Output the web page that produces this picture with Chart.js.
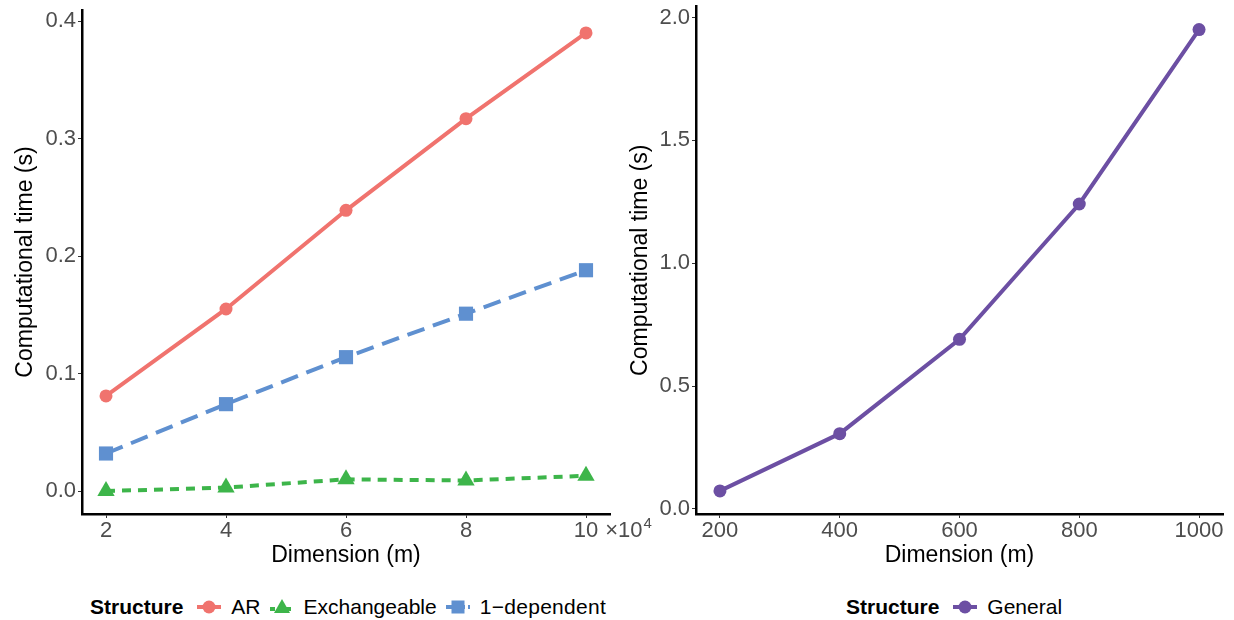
<!DOCTYPE html>
<html>
<head>
<meta charset="utf-8">
<script src="https://cdn.jsdelivr.net/npm/chart.js@4"></script>
<style>
  body { margin: 0; background: #fff; width: 1234px; height: 620px; position: relative; overflow: hidden; font-family: "Liberation Sans", Arial, sans-serif; }
  #leftChart { position: absolute; left: 0; top: 0; z-index: 2; }
  #rightChart { position: absolute; left: 615px; top: 0; z-index: 1; }
  .legend { position: absolute; top: 594px; height: 26px; display: flex; align-items: center; font-size: 21px; color: #000; white-space: nowrap; }
  .legend b { margin-right: 9px; }
  .legend svg { margin: 0 10px 0 5px; }
  .legend span.item { margin-right: 4px; }
</style>
</head>
<body>
<canvas id="leftChart" width="660" height="575"></canvas>
<canvas id="rightChart" width="619" height="575"></canvas>

<div class="legend" id="legendLeft" style="left:90px;">
  <b>Structure</b>
  <svg width="24" height="20"><line x1="0" y1="10" x2="24" y2="10" stroke="#F0736E" stroke-width="4"/><circle cx="12" cy="10" r="6.5" fill="#F0736E"/></svg>
  <span class="item">AR</span>
  <svg width="24" height="20"><line x1="0" y1="12" x2="24" y2="12" stroke="#3DB54A" stroke-width="4" stroke-dasharray="5 3"/><polygon points="12,2 20,16 4,16" fill="#3DB54A"/></svg>
  <span class="item">Exchangeable</span>
  <svg width="24" height="20"><line x1="0" y1="10" x2="24" y2="10" stroke="#5F90D0" stroke-width="4" stroke-dasharray="8 3"/><rect x="5.5" y="3.5" width="13" height="13" fill="#5F90D0"/></svg>
  <span class="item" style="letter-spacing:0.3px">1−dependent</span>
</div>

<div class="legend" id="legendRight" style="left:846px;">
  <b>Structure</b>
  <svg width="24" height="20"><line x1="0" y1="10" x2="24" y2="10" stroke="#6C4FA3" stroke-width="4"/><circle cx="12" cy="10" r="6.5" fill="#6C4FA3"/></svg>
  <span class="item">General</span>
</div>

<script>
// --- data ---
const dimsLeft = [2, 4, 6, 8, 10];            // x 10^4
const arTimes = [0.081, 0.155, 0.239, 0.317, 0.390];
const exchTimes = [0.000, 0.003, 0.010, 0.009, 0.013];
const depTimes = [0.032, 0.074, 0.114, 0.151, 0.188];
const yTicksLeft = [0, 0.1, 0.2, 0.3, 0.4];

const dimsRight = [200, 400, 600, 800, 1000];
const generalTimes = [0.073, 0.306, 0.690, 1.241, 1.951];
const yTicksRight = [0, 0.5, 1.0, 1.5, 2.0];

const FONT = '"Liberation Sans", Arial, sans-serif';
const TICK_GREY = '#4D4D4D';

function series(label, xs, ys, color, style, radius, dash) {
  return {
    label: label,
    data: xs.map((x, i) => ({ x: x, y: ys[i] })),
    borderColor: color,
    backgroundColor: color,
    borderWidth: 4,
    borderDash: dash || [],
    pointStyle: style,
    pointRadius: radius,
    pointBorderWidth: 0,
    pointBackgroundColor: color,
    tension: 0
  };
}

// draws the "×10^4" multiplier next to the last x tick of the left plot
const multiplierPlugin = {
  id: 'multiplier',
  afterDraw(chart) {
    if (chart.canvas.id !== 'leftChart') return;
    const ctx = chart.ctx;
    const xs = chart.scales.x;
    const px = xs.getPixelForValue(10);
    ctx.save();
    ctx.fillStyle = TICK_GREY;
    ctx.font = '22px ' + FONT;
    ctx.textBaseline = 'alphabetic';
    ctx.textAlign = 'left';
    const w10 = ctx.measureText('10').width;
    const base = 537;
    const x0 = px + w10 / 2 + 7;
    ctx.fillText('×10', x0, base);
    const w = ctx.measureText('×10').width;
    ctx.font = '15px ' + FONT;
    ctx.fillText('4', x0 + w + 1, base - 9);
    ctx.restore();
  }
};

function axisOpts(min, max, ticks, fmt, title, isY, fitSize) {
  return {
    type: 'linear',
    min: min,
    max: max,
    afterBuildTicks: (scale) => { scale.ticks = ticks.map(v => ({ value: v })); },
    afterFit: (scale) => {
      if (isY) scale.width = fitSize; else scale.height = fitSize;
      // plot area is placed by hand, so drop the label overhang padding
      scale.paddingTop = 0; scale.paddingBottom = 0;
      scale.paddingLeft = 0; scale.paddingRight = 0;
    },
    grid: { display: true, drawOnChartArea: false, drawTicks: true, tickLength: 4, tickWidth: 1, tickColor: '#333' },
    border: { display: true, color: '#000', width: 2.5 },
    ticks: {
      color: TICK_GREY,
      font: { family: FONT, size: 22, lineHeight: 1 },
      padding: 2,
      maxRotation: 0,
      autoSkip: false,
      callback: fmt
    },
    title: {
      display: true,
      text: title,
      color: '#000',
      font: { family: FONT, size: 23 },
      padding: isY ? { top: 12, bottom: 0 } : { top: 0, bottom: 6 }
    }
  };
}

function makeChart(id, datasets, xAxis, yAxis, padRight) {
  return new Chart(document.getElementById(id), {
    type: 'line',
    data: { datasets: datasets },
    options: {
      responsive: false,
      animation: false,
      layout: { padding: { top: 6, right: padRight, bottom: 0, left: 0 } },
      plugins: { legend: { display: false }, tooltip: { enabled: false } },
      scales: { x: xAxis, y: yAxis }
    },
    plugins: [multiplierPlugin]
  });
}

makeChart('leftChart',
  [
    series('AR', dimsLeft, arTimes, '#F0736E', 'circle', 6.5),
    series('Exchangeable', dimsLeft, exchTimes, '#3DB54A', 'triangle', 10, [9, 7]),
    series('1-dependent', dimsLeft, depTimes, '#5F90D0', 'rect', 10, [18, 9])
  ],
  axisOpts(1.6, 10.4, dimsLeft, v => String(v), 'Dimension (m)', false, 575 - 514),
  axisOpts(-0.0195, 0.4095, yTicksLeft, v => v.toFixed(1), 'Computational time (s)', true, 82),
  50
);

makeChart('rightChart',
  [series('General', dimsRight, generalTimes, '#6C4FA3', 'circle', 6.5)],
  axisOpts(160, 1040, dimsRight, v => String(v), 'Dimension (m)', false, 575 - 514),
  axisOpts(-0.021, 2.045, yTicksRight, v => v.toFixed(1), 'Computational time (s)', true, 81),
  11
);
</script>
</body>
</html>
